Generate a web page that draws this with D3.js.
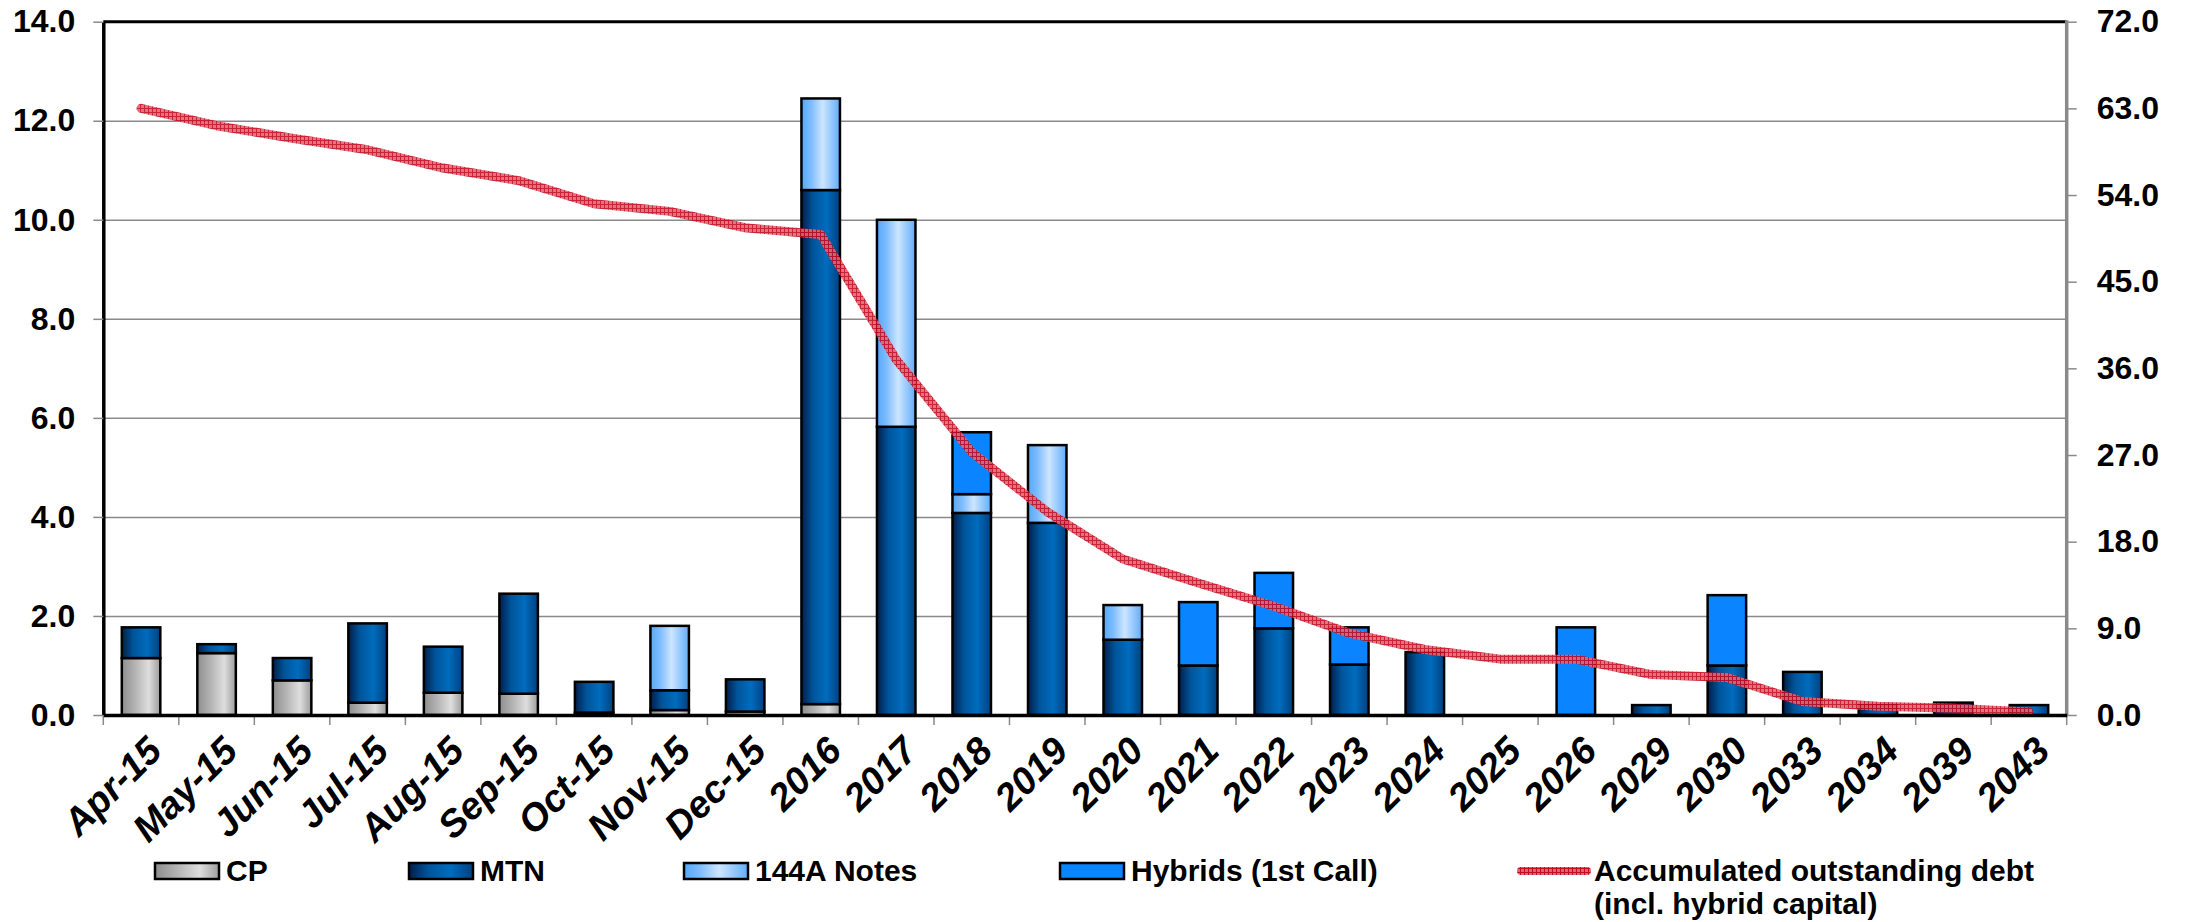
<!DOCTYPE html>
<html>
<head>
<meta charset="utf-8">
<script src="https://cdn.jsdelivr.net/npm/d3@7"></script>
<style>
  body { margin: 0; background: #fff; }
  svg { display: block; }
  text { font-family: "Liberation Sans", Arial, sans-serif; font-weight: bold; fill: #000; }
</style>
</head>
<body>
<div id="chart"></div>
<script>
// categories (x axis)
var categories = ["Apr-15","May-15","Jun-15","Jul-15","Aug-15","Sep-15","Oct-15","Nov-15","Dec-15",
  "2016","2017","2018","2019","2020","2021","2022","2023","2024","2025","2026","2029","2030","2033","2034","2039","2043"];

// maturities (left axis)
var cp      = [1.15,1.25,0.70,0.25,0.45,0.43,0.05,0.10,0.07,0.22,0,   0,   0,   0,   0,   0,   0,   0,   0,0,   0,   0,   0,   0,   0,   0];
var mtn     = [0.62,0.18,0.45,1.60,0.93,2.02,0.62,0.40,0.65,10.38,5.82,4.08,3.88,1.52,1.00,1.75,1.02,1.27,0,0,   0.20,1.00,0.87,0.20,0.25,0.20];
var notes   = [0,   0,   0,   0,   0,   0,   0,   1.30,0,   1.85,4.18,0.38,1.57,0.70,0,   0,   0,   0,   0,0,   0,   0,   0,   0,   0,   0];
var hybrids = [0,   0,   0,   0,   0,   0,   0,   0,   0,   0,   0,   1.25,0,   0,   1.28,1.12,0.75,0,   0,1.77,0,   1.42,0,   0,   0,   0];

// accumulated outstanding debt (right axis)
var outstanding = [63.0,61.2,59.9,58.7,56.8,55.5,53.1,52.3,50.6,49.9,36.9,27.3,21.1,16.2,13.7,11.3,8.5,6.8,5.8,5.8,4.2,3.9,1.4,0.9,0.7,0.3];

var leftTicks  = [0,2,4,6,8,10,12,14];
var rightTicks = [0,9,18,27,36,45,54,63,72];

var seriesNames = ["CP","MTN","144A Notes","Hybrids (1st Call)"];
var lineName = ["Accumulated outstanding debt", "(incl. hybrid capital)"];

var W = 2188, H = 922;
var plot = {left: 103.3, right: 2066.7, top: 21.7, bottom: 715};

var svg = d3.select('#chart').append('svg')
  .attr('width', W).attr('height', H);

svg.append('rect').attr('width', W).attr('height', H).attr('fill', '#fff');

var defs = svg.append('defs');
function hGrad(id, stops) {
  var g = defs.append('linearGradient').attr('id', id)
    .attr('x1', '0%').attr('x2', '100%').attr('y1', '0%').attr('y2', '0%');
  stops.forEach(function(s) {
    g.append('stop').attr('offset', s[0]).attr('stop-color', s[1]);
  });
}
hGrad('gCP',  [['0%','#8e8e8e'],['35%','#b4b4b4'],['70%','#dedede'],['100%','#9c9c9c']]);
hGrad('gMTN', [['0%','#001e4a'],['30%','#00549a'],['65%','#006cbd'],['100%','#00407e']]);
hGrad('gNotes', [['0%','#55a8f5'],['25%','#7dbcff'],['55%','#cde5ff'],['100%','#60adfa']]);
hGrad('gHyb', [['0%','#0a84ff'],['100%','#0a84ff']]);

// hatched red texture for the line
var pat = defs.append('pattern').attr('id', 'redHatch')
  .attr('patternUnits', 'userSpaceOnUse').attr('width', 4).attr('height', 4);
pat.append('rect').attr('width', 4).attr('height', 4).attr('fill', '#e06470');
pat.append('path').attr('d', 'M0,0.5H4M0.5,0V4').attr('stroke', '#c01020').attr('stroke-width', 1);

var fills = ['url(#gCP)','url(#gMTN)','url(#gNotes)','url(#gHyb)'];

var x = d3.scaleBand().domain(categories).range([plot.left, plot.right]);
var yL = d3.scaleLinear().domain([0, 14]).range([plot.bottom, plot.top]);
var yR = d3.scaleLinear().domain([0, 72]).range([plot.bottom, plot.top]);

// gridlines
svg.append('g')
  .attr('transform', 'translate(' + plot.left + ',0)')
  .call(d3.axisLeft(yL).tickValues(leftTicks.slice(1, -1)).tickSize(-(plot.right - plot.left)).tickFormat(''))
  .call(function(g) {
    g.select('.domain').remove();
    g.selectAll('line').attr('stroke', '#8a8a8a').attr('stroke-width', 1.5);
  });

// stacked bars
var table = categories.map(function(c, i) {
  return {cat: c, CP: cp[i], MTN: mtn[i], Notes: notes[i], Hyb: hybrids[i]};
});
var stack = d3.stack().keys(['CP','MTN','Notes','Hyb'])(table);
var barW = x.bandwidth() * 0.51;

stack.forEach(function(layer, k) {
  svg.append('g').selectAll('rect')
    .data(layer.filter(function(d) { return d[1] - d[0] > 0; }))
    .enter().append('rect')
    .attr('x', function(d) { return x(d.data.cat) + (x.bandwidth() - barW) / 2; })
    .attr('width', barW)
    .attr('y', function(d) { return yL(d[1]); })
    .attr('height', function(d) { return yL(d[0]) - yL(d[1]); })
    .attr('fill', fills[k])
    .attr('stroke', '#000')
    .attr('stroke-width', 2.5);
});

// line on right axis
var line = d3.line()
  .x(function(d, i) { return x(categories[i]) + x.bandwidth() / 2; })
  .y(function(d) { return yR(d); });

svg.append('path')
  .datum(outstanding)
  .attr('d', line)
  .attr('fill', 'none')
  .attr('stroke', 'url(#redHatch)')
  .attr('stroke-opacity', 0.9)
  .attr('stroke-width', 9)
  .attr('stroke-linejoin', 'round')
  .attr('stroke-linecap', 'round');

// frame: top border black, right axis gray
svg.append('line').attr('x1', plot.left).attr('x2', plot.right).attr('y1', plot.top).attr('y2', plot.top)
  .attr('stroke', '#000').attr('stroke-width', 3);
svg.append('line').attr('x1', plot.right).attr('x2', plot.right).attr('y1', plot.top - 1.5).attr('y2', plot.bottom)
  .attr('stroke', '#8a8a8a').attr('stroke-width', 3.5);

// left axis
svg.append('g')
  .attr('transform', 'translate(' + plot.left + ',0)')
  .call(d3.axisLeft(yL).tickValues(leftTicks).tickSize(10).tickSizeOuter(0).tickPadding(18).tickFormat(d3.format('.1f')))
  .call(function(g) {
    g.select('.domain').attr('stroke', '#000').attr('stroke-width', 3.5);
    g.selectAll('line').attr('stroke', '#8a8a8a').attr('stroke-width', 1.5);
    g.selectAll('text').attr('font-size', 32).attr('font-family', null).attr('fill', '#000');
  });

// right axis
svg.append('g')
  .attr('transform', 'translate(' + plot.right + ',0)')
  .call(d3.axisRight(yR).tickValues(rightTicks).tickSize(10).tickSizeOuter(0).tickPadding(20).tickFormat(d3.format('.1f')))
  .call(function(g) {
    g.select('.domain').remove();
    g.selectAll('line').attr('stroke', '#8a8a8a').attr('stroke-width', 1.5);
    g.selectAll('text').attr('font-size', 32).attr('font-family', null).attr('fill', '#000');
  });

// bottom axis: ticks on category boundaries, rotated labels
var bounds = categories.map(function(c) { return x(c); }).concat([plot.right]);
svg.append('g').selectAll('line')
  .data(bounds).enter().append('line')
  .attr('x1', function(d) { return d; }).attr('x2', function(d) { return d; })
  .attr('y1', plot.bottom).attr('y2', plot.bottom + 10)
  .attr('stroke', '#8a8a8a').attr('stroke-width', 1.5);

svg.append('g')
  .attr('transform', 'translate(0,' + plot.bottom + ')')
  .call(d3.axisBottom(x).tickSize(0).tickPadding(0))
  .call(function(g) {
    g.select('.domain').attr('stroke', '#000').attr('stroke-width', 3.5);
    g.selectAll('text')
      .attr('font-size', 38)
      .attr('font-style', 'italic')
      .attr('font-family', null)
      .attr('fill', '#000')
      .attr('text-anchor', 'end')
      .attr('dy', 0)
      .attr('transform', 'translate(23,38) rotate(-45)');
  });

// legend
var legendX = [155, 409, 684, 1060];
var legend = svg.append('g');
seriesNames.forEach(function(name, k) {
  legend.append('rect')
    .attr('x', legendX[k]).attr('y', 863).attr('width', 64).attr('height', 16)
    .attr('fill', fills[k]).attr('stroke', '#000').attr('stroke-width', 2.5);
  legend.append('text')
    .attr('x', legendX[k] + 71).attr('y', 881)
    .attr('font-size', 30)
    .text(name);
});
legend.append('line')
  .attr('x1', 1521).attr('x2', 1587).attr('y1', 871).attr('y2', 871)
  .attr('stroke', 'url(#redHatch)').attr('stroke-width', 8).attr('stroke-linecap', 'round');
legend.selectAll('text.ln')
  .data(lineName).enter().append('text')
  .attr('class', 'ln')
  .attr('x', 1594)
  .attr('y', function(d, i) { return 881 + i * 33; })
  .attr('font-size', 30)
  .text(function(d) { return d; });
</script>
</body>
</html>
